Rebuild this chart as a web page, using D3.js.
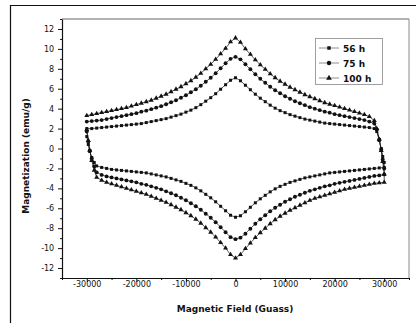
<!DOCTYPE html>
<html>
<head>
<meta charset="utf-8">
<script src="https://cdn.jsdelivr.net/npm/d3@7"></script>
<style>
  html, body { margin: 0; padding: 0; background: #fff; }
  svg { display: block; }
  text { font-family: "DejaVu Sans", "Liberation Sans", sans-serif; fill: #111; }
</style>
</head>
<body>
<svg id="chart" width="416" height="323"></svg>
<script>
// Hysteresis loops M(H) for three milling times.
// Each loop: upper sweep, drop at +H end, lower sweep, rise at -H end.
const seriesNames = ["56 h", "75 h", "100 h"];

const fieldUp = [-30000,-29000,-28000,-27000,-26000,-25000,-24000,-23000,-22000,-21000,
  -20000,-19000,-18000,-17000,-16000,-15000,-14000,-13000,-12000,-11000,
  -10000,-9000,-8000,-7000,-6000,-5000,-4000,-3000,-2000,-1000,
  0,1000,2000,3000,4000,5000,6000,7000,8000,9000,
  10000,11000,12000,13000,14000,15000,16000,17000,18000,19000,
  20000,21000,22000,23000,24000,25000,26000,27000,28000];
const fieldDrop = [28500,29000,29400,29700,30000];
const fieldDown = [30000,29000,28000,27000,26000,25000,24000,23000,22000,21000,
  20000,19000,18000,17000,16000,15000,14000,13000,12000,11000,
  10000,9000,8000,7000,6000,5000,4000,3000,2000,1000,
  0,-1000,-2000,-3000,-4000,-5000,-6000,-7000,-8000,-9000,
  -10000,-11000,-12000,-13000,-14000,-15000,-16000,-17000,-18000,-19000,
  -20000,-21000,-22000,-23000,-24000,-25000,-26000,-27000,-28000];
const fieldRise = [-28500,-29000,-29400,-29700,-30000];

// 56 h
const m56Up = [2.0,2.0,2.05,2.1,2.15,2.2,2.25,2.3,2.35,2.4,
  2.45,2.5,2.6,2.7,2.8,2.9,3.0,3.15,3.3,3.45,
  3.65,3.85,4.1,4.4,4.75,5.1,5.5,5.95,6.4,6.85,
  7.1,6.8,6.35,5.9,5.45,5.05,4.7,4.35,4.05,3.8,
  3.6,3.4,3.25,3.1,2.95,2.85,2.75,2.65,2.55,2.5,
  2.45,2.4,2.35,2.3,2.25,2.2,2.15,2.1,2.0];
const m56Drop = [1.7,0.8,0.0,-0.8,-1.4];
const m56Down = [-1.9,-1.95,-2.0,-2.05,-2.1,-2.15,-2.2,-2.25,-2.3,-2.35,
  -2.4,-2.45,-2.55,-2.65,-2.75,-2.85,-2.95,-3.1,-3.25,-3.4,
  -3.6,-3.8,-4.05,-4.35,-4.7,-5.05,-5.45,-5.9,-6.35,-6.75,
  -6.9,-6.7,-6.25,-5.8,-5.35,-4.95,-4.6,-4.25,-3.95,-3.7,
  -3.5,-3.3,-3.15,-3.0,-2.85,-2.75,-2.65,-2.55,-2.45,-2.4,
  -2.35,-2.3,-2.25,-2.2,-2.15,-2.1,-2.0,-1.9,-1.75];
const m56Rise = [-1.4,-0.9,-0.3,0.4,1.2];

// 75 h
const m75Up = [2.7,2.75,2.8,2.85,2.95,3.05,3.15,3.25,3.35,3.45,
  3.55,3.7,3.8,3.95,4.1,4.25,4.45,4.65,4.85,5.1,
  5.35,5.65,5.95,6.3,6.7,7.1,7.55,8.05,8.55,9.0,
  9.2,8.95,8.45,7.95,7.45,7.0,6.6,6.2,5.85,5.55,
  5.25,5.0,4.75,4.55,4.35,4.15,4.0,3.85,3.7,3.6,
  3.45,3.35,3.25,3.15,3.05,2.95,2.85,2.7,2.5];
const m75Drop = [1.9,0.9,-0.1,-1.1,-2.0];
const m75Down = [-2.6,-2.7,-2.75,-2.85,-2.95,-3.05,-3.15,-3.25,-3.35,-3.45,
  -3.55,-3.7,-3.8,-3.95,-4.1,-4.25,-4.45,-4.65,-4.85,-5.1,
  -5.35,-5.65,-5.95,-6.3,-6.7,-7.1,-7.55,-8.05,-8.55,-8.95,
  -9.1,-8.9,-8.4,-7.9,-7.4,-6.95,-6.55,-6.15,-5.8,-5.5,
  -5.2,-4.95,-4.7,-4.5,-4.3,-4.1,-3.95,-3.8,-3.65,-3.55,
  -3.4,-3.3,-3.2,-3.1,-3.0,-2.9,-2.8,-2.65,-2.4];
const m75Rise = [-1.8,-1.0,-0.2,0.7,1.7];

// 100 h
const m100Up = [3.3,3.4,3.5,3.6,3.7,3.8,3.9,4.0,4.1,4.25,
  4.4,4.55,4.7,4.85,5.05,5.25,5.45,5.7,5.95,6.2,
  6.5,6.8,7.15,7.55,8.0,8.45,8.95,9.5,10.05,10.7,
  11.1,10.65,10.0,9.45,8.9,8.4,7.95,7.5,7.1,6.75,
  6.45,6.15,5.9,5.65,5.4,5.2,5.0,4.8,4.6,4.45,
  4.3,4.15,4.0,3.85,3.7,3.55,3.4,3.2,2.8];
const m100Drop = [2.0,0.9,-0.2,-1.3,-2.6];
const m100Down = [-3.4,-3.45,-3.5,-3.6,-3.7,-3.8,-3.9,-4.0,-4.1,-4.25,
  -4.4,-4.55,-4.7,-4.85,-5.0,-5.2,-5.45,-5.7,-5.95,-6.2,
  -6.5,-6.8,-7.15,-7.55,-8.0,-8.45,-8.95,-9.5,-10.05,-10.65,
  -11.0,-10.65,-10.0,-9.45,-8.9,-8.4,-7.95,-7.5,-7.1,-6.75,
  -6.45,-6.15,-5.9,-5.65,-5.4,-5.2,-5.0,-4.8,-4.6,-4.45,
  -4.3,-4.15,-4.0,-3.85,-3.7,-3.55,-3.4,-3.2,-2.9];
const m100Rise = [-2.2,-1.2,-0.2,0.8,1.9];

const xTicks = [-30000,-20000,-10000,0,10000,20000,30000];
const xMinor = [-35000,-25000,-15000,-5000,5000,15000,25000,35000];
const yTicks = [-12,-10,-8,-6,-4,-2,0,2,4,6,8,10,12];
const yMinor = [-13,-11,-9,-7,-5,-3,-1,1,3,5,7,9,11,13];

const field = fieldUp.concat(fieldDrop, fieldDown, fieldRise);
const loops = [
  { name: seriesNames[0], symbol: d3.symbolSquare, size: 9,  m: m56Up.concat(m56Drop, m56Down, m56Rise) },
  { name: seriesNames[1], symbol: d3.symbolCircle, size: 12, m: m75Up.concat(m75Drop, m75Down, m75Rise) },
  { name: seriesNames[2], symbol: d3.symbolTriangle, size: 11, m: m100Up.concat(m100Drop, m100Down, m100Rise) }
];

const svg = d3.select("#chart");
const plot = { left: 62, right: 409, top: 19, bottom: 278 };

const x = d3.scaleLinear().domain([-35000, 35000]).range([plot.left, plot.right]);
const y = d3.scaleLinear().domain([-13, 13]).range([plot.bottom, plot.top]);

// page frame
svg.append("path").attr("d", "M10.5,323V5.5H416")
  .attr("fill", "none").attr("stroke", "#111").attr("stroke-width", 1.2);

// plot frame (top and right)
svg.append("line").attr("x1", plot.left).attr("x2", plot.right)
  .attr("y1", plot.top).attr("y2", plot.top)
  .attr("stroke", "#9a9a9a").attr("stroke-width", 1.6);
svg.append("line").attr("x1", plot.right).attr("x2", plot.right)
  .attr("y1", plot.top).attr("y2", plot.bottom)
  .attr("stroke", "#8a8a8a").attr("stroke-width", 1);

// axes
const fmt = v => String(v);
const gx = svg.append("g").attr("transform", `translate(0,${plot.bottom})`)
  .call(d3.axisBottom(x).tickValues(xTicks).tickFormat(fmt).tickSize(4).tickSizeOuter(0));
svg.append("g").attr("transform", `translate(0,${plot.bottom})`)
  .call(d3.axisBottom(x).tickValues(xMinor).tickFormat("").tickSize(2).tickSizeOuter(0))
  .select(".domain").remove();
const gy = svg.append("g").attr("transform", `translate(${plot.left},0)`)
  .call(d3.axisLeft(y).tickValues(yTicks).tickFormat(fmt).tickSize(4).tickSizeOuter(0));
svg.append("g").attr("transform", `translate(${plot.left},0)`)
  .call(d3.axisLeft(y).tickValues(yMinor).tickFormat("").tickSize(2).tickSizeOuter(0))
  .select(".domain").remove();

svg.selectAll(".domain").attr("stroke", "#111").attr("stroke-width", 1.2);
svg.selectAll(".tick line").attr("stroke", "#111").attr("stroke-width", 1);
gx.selectAll("text").attr("font-size", 8).attr("dy", "0.2em")
  .style("font-family", "'DejaVu Sans', sans-serif").attr("fill", "#222");
gy.selectAll("text").attr("font-size", 8).attr("dx", "-0.1em")
  .style("font-family", "'DejaVu Sans', sans-serif").attr("fill", "#222");

// axis titles
svg.append("text").attr("x", 235).attr("y", 312).attr("text-anchor", "middle")
  .attr("font-size", 9).attr("font-weight", "bold").text("Magnetic Field (Guass)");
svg.append("text").attr("transform", "translate(29,156) rotate(-90)").attr("text-anchor", "middle")
  .attr("font-size", 9).attr("font-weight", "bold").text("Magnetization (emu/g)");

// loops
const line = d3.line().x((d, i) => x(field[i])).y(d => y(d));
const gLoops = svg.append("g");
loops.forEach(s => {
  gLoops.append("path").datum(s.m).attr("d", line)
    .attr("fill", "none").attr("stroke", "#111").attr("stroke-width", 0.7);
  gLoops.selectAll(null).data(s.m).join("path")
    .attr("transform", (d, i) => `translate(${x(field[i])},${y(d)})`)
    .attr("d", d3.symbol().type(s.symbol).size(s.size))
    .attr("fill", "#111");
});

// legend
const lg = svg.append("g");
lg.append("rect").attr("x", 315.5).attr("y", 38.5).attr("width", 67).attr("height", 46)
  .attr("fill", "#fff").attr("stroke", "#888").attr("stroke-width", 0.8);
loops.forEach((s, i) => {
  const yy = 48 + i * 15;
  lg.append("line").attr("x1", 319).attr("x2", 339).attr("y1", yy).attr("y2", yy)
    .attr("stroke", "#444").attr("stroke-width", 0.6);
  lg.append("path").attr("transform", `translate(329,${yy})`)
    .attr("d", d3.symbol().type(s.symbol).size(s.size + 3)).attr("fill", "#111");
  lg.append("text").attr("x", 343).attr("y", yy + 3.5).attr("font-size", 9)
    .attr("font-weight", "bold").text(s.name);
});
</script>
</body>
</html>
